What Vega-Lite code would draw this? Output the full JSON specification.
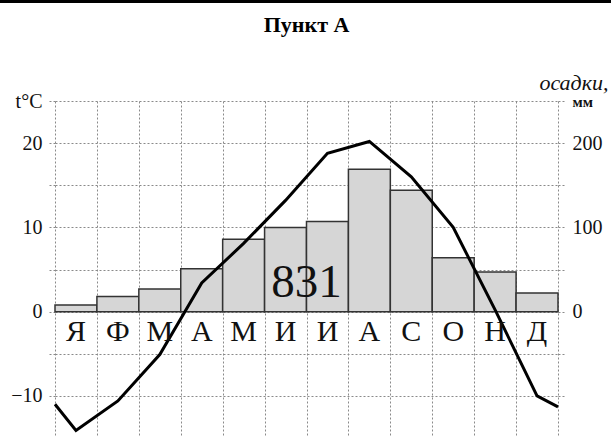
{
  "$schema": "https://vega.github.io/schema/vega-lite/v6.json",
  "autosize": {"type": "none"},
  "padding": {"left": 55, "top": 101, "right": 53, "bottom": 0},
  "width": 503,
  "height": 337,
  "background": "white",
  "title": {"text": "Пункт А", "font": "Liberation Serif", "fontSize": 22, "fontWeight": "bold", "color": "#000", "anchor": "middle", "offset": -37},
  "config": {"view": {"stroke": null}, "font": "Liberation Serif"},
  "datasets": {
    "months": [
      {"month": "Я", "from": 0, "to": 1, "mid": 0.5, "precip": 8},
      {"month": "Ф", "from": 1, "to": 2, "mid": 1.5, "precip": 18},
      {"month": "М", "from": 2, "to": 3, "mid": 2.5, "precip": 27},
      {"month": "А", "from": 3, "to": 4, "mid": 3.5, "precip": 51},
      {"month": "М", "from": 4, "to": 5, "mid": 4.5, "precip": 86},
      {"month": "И", "from": 5, "to": 6, "mid": 5.5, "precip": 100},
      {"month": "И", "from": 6, "to": 7, "mid": 6.5, "precip": 107},
      {"month": "А", "from": 7, "to": 8, "mid": 7.5, "precip": 169},
      {"month": "С", "from": 8, "to": 9, "mid": 8.5, "precip": 144},
      {"month": "О", "from": 9, "to": 10, "mid": 9.5, "precip": 64},
      {"month": "Н", "from": 10, "to": 11, "mid": 10.5, "precip": 47},
      {"month": "Д", "from": 11, "to": 12, "mid": 11.5, "precip": 22}
    ],
    "temperature": [
      {"pos": 0, "temp": -11.0},
      {"pos": 0.5, "temp": -14.1},
      {"pos": 1.5, "temp": -10.6},
      {"pos": 2.5, "temp": -5.1},
      {"pos": 3.5, "temp": 3.4},
      {"pos": 4.5, "temp": 8.1},
      {"pos": 5.5, "temp": 13.2},
      {"pos": 6.5, "temp": 18.8},
      {"pos": 7.5, "temp": 20.2},
      {"pos": 8.5, "temp": 16.0},
      {"pos": 9.5, "temp": 10.0},
      {"pos": 10.5, "temp": 0.2},
      {"pos": 11.5, "temp": -10.0},
      {"pos": 12, "temp": -11.3}
    ],
    "stamp": [{"text": "831", "pos": 6, "temp": 1.7}],
    "border": [{"a": -1.32, "b": 13.3, "level": 36.8}]
  },
  "layer": [
    {
      "data": {"name": "months"},
      "mark": {"type": "bar", "fill": "#d6d6d6", "stroke": "#333333", "strokeWidth": 1.5},
      "encoding": {
        "x": {"field": "from", "type": "quantitative", "scale": {"domain": [0, 12], "nice": false},
              "axis": {"values": [0,1,2,3,4,5,6,7,8,9,10,11,12], "grid": true, "gridColor": "#8a8a8a", "gridDash": [2, 2], "gridWidth": 1, "labels": false, "ticks": false, "domain": false, "title": null}},
        "x2": {"field": "to"},
        "y": {"field": "precip", "type": "quantitative", "scale": {"domain": [-150, 250], "nice": false, "zero": false},
              "axis": {"orient": "right", "values": [-150,-100,-50,0,50,100,150,200,250], "grid": false, "domain": false,
                       "tickSize": 7, "tickColor": "#8a8a8a", "tickDash": [2, 2], "tickWidth": 1,
                       "labelPadding": 7, "labelFont": "Liberation Serif", "labelFontSize": {"condition": {"test": "datum.value === 250", "value": 15}, "value": 20},
                       "labelFontWeight": {"condition": {"test": "datum.value === 250", "value": "bold"}, "value": "normal"},
                       "labelColor": "#111", "labelBaseline": "middle",
                       "labelExpr": "datum.value === 250 ? 'мм' : ((datum.value === 0 || datum.value === 100 || datum.value === 200) ? datum.label : '')",
                       "title": "осадки,", "titleAngle": 0, "titleAlign": "right", "titleBaseline": "alphabetic", "titleX": 50, "titleY": -12,
                       "titleFont": "Liberation Serif", "titleFontStyle": "italic", "titleFontWeight": "normal", "titleFontSize": 22, "titleColor": "#111"}},
        "y2": {"datum": 0}
      }
    },
    {
      "data": {"name": "border"},
      "mark": {"type": "rule", "color": "#000", "strokeWidth": 3, "clip": false},
      "encoding": {"x": {"field": "a", "type": "quantitative"}, "x2": {"field": "b"},
                   "y": {"field": "level", "type": "quantitative", "scale": {"domain": [-15, 25], "nice": false, "zero": false}, "axis": null}}
    },
    {
      "layer": [
        {
          "data": {"name": "temperature"},
          "mark": {"type": "line", "color": "#000", "strokeWidth": 3, "strokeJoin": "miter"},
          "encoding": {
            "x": {"field": "pos", "type": "quantitative", "scale": {"domain": [0, 12], "nice": false},
                  "axis": {"values": [0,1,2,3,4,5,6,7,8,9,10,11,12], "grid": true, "gridColor": "#8a8a8a", "gridDash": [2, 2], "gridWidth": 1, "labels": false, "ticks": false, "domain": false, "title": null}},
            "y": {"field": "temp", "type": "quantitative", "scale": {"domain": [-15, 25], "nice": false, "zero": false},
                  "axis": {"orient": "left", "values": [-15,-10,-5,0,5,10,15,20,25], "grid": true, "gridColor": "#8a8a8a", "gridDash": [2, 2], "gridWidth": 1, "domain": false,
                           "tickSize": 7, "tickColor": "#8a8a8a", "tickDash": [2, 2], "tickWidth": 1,
                           "labelPadding": 6, "labelFont": "Liberation Serif", "labelFontSize": 20, "labelColor": "#111", "labelBaseline": "middle",
                           "labelExpr": "datum.value === 25 ? 't°C' : ((datum.value === -10 || datum.value === 0 || datum.value === 10 || datum.value === 20) ? datum.label : '')",
                           "title": null}}
          }
        },
        {
          "mark": {"type": "rule", "color": "#000", "strokeWidth": 2},
          "encoding": {"x": {"datum": -0.12}, "x2": {"datum": 12.17}, "y": {"datum": 0}}
        },
        {
          "data": {"name": "months"},
          "mark": {"type": "text", "font": "Liberation Serif", "fontSize": 30, "color": "#111", "baseline": "alphabetic", "align": "center"},
          "encoding": {"x": {"field": "mid", "type": "quantitative"}, "y": {"datum": -3.45}, "text": {"field": "month"}}
        },
        {
          "data": {"name": "stamp"},
          "mark": {"type": "text", "font": "Liberation Serif", "fontSize": 47, "color": "#111", "baseline": "alphabetic", "align": "center"},
          "encoding": {"x": {"field": "pos", "type": "quantitative"}, "y": {"field": "temp", "type": "quantitative"}, "text": {"field": "text"}}
        }
      ]
    }
  ],
  "resolve": {"scale": {"y": "independent"}}
}
